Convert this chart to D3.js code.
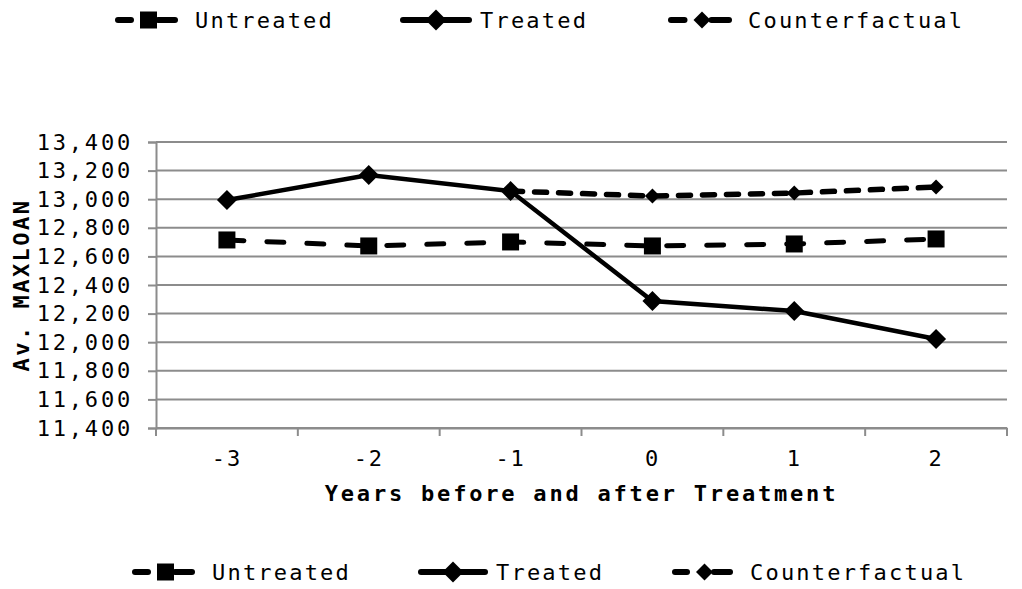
<!DOCTYPE html>
<html>
<head>
<meta charset="utf-8">
<script src="https://cdn.jsdelivr.net/npm/d3@7"></script>
<style>
  body { margin: 0; background: #fff; }
  text { font-family: "DejaVu Sans Mono", monospace; fill: #000; }
</style>
</head>
<body>
<div id="chart"></div>
<script>
// --------------------------------------
//  data
// --------------------------------------
const years = ["-3", "-2", "-1", "0", "1", "2"];
const untreated = [12715, 12673, 12701, 12673, 12687, 12722];
const treated = [12994, 13169, 13057, 12288, 12218, 12022];
const counterfactual = [null, null, 13057, 13022, 13043, 13085];
const yTicks = [11400, 11600, 11800, 12000, 12200, 12400, 12600, 12800, 13000, 13200, 13400];

const width = 1022, height = 589;
const margin = {top: 142, right: 15, bottom: 161, left: 156};
const innerwidth = width - margin.left - margin.right;
const innerheight = height - margin.top - margin.bottom;

const svg = d3.select("#chart")
  .append("svg")
    .attr("width", width)
    .attr("height", height)
    .attr("viewBox", [0, 0, width, height]);

const inner = svg.append("g")
    .attr("transform", `translate(${margin.left}, ${margin.top})`);

// --------------------------------------
//  scales
// --------------------------------------
const x = d3.scaleBand().domain(years).range([0, innerwidth]);
const y = d3.scaleLinear().domain([11400, 13400]).range([innerheight, 0]);
const fmt = d3.format(",");

// --------------------------------------
//  grid + axes
// --------------------------------------
inner.append("g")
  .selectAll("line")
  .data(yTicks)
  .join("line")
    .attr("x1", 0).attr("x2", innerwidth)
    .attr("y1", d => y(d)).attr("y2", d => y(d))
    .attr("stroke", "#8c8c8c").attr("stroke-width", 2);

const yAxis = inner.append("g")
  .call(d3.axisLeft(y).tickValues(yTicks).tickFormat(fmt).tickSize(8).tickPadding(15));
yAxis.select(".domain").attr("stroke", "#8c8c8c").attr("stroke-width", 2);
yAxis.selectAll(".tick line").attr("stroke", "#8c8c8c").attr("stroke-width", 2);
yAxis.selectAll(".tick text")
  .style("font-size", "22px").style("letter-spacing", "2.8px");

const xAxis = inner.append("g")
  .attr("transform", `translate(0, ${innerheight})`)
  .call(d3.axisBottom(x).tickSize(0).tickPadding(22));
xAxis.select(".domain").attr("stroke", "#8c8c8c").attr("stroke-width", 2);
xAxis.selectAll(".tick text")
  .style("font-size", "22px").style("letter-spacing", "1.8px");

inner.append("g")
  .selectAll("line")
  .data(years.concat(["end"]))
  .join("line")
    .attr("x1", (d, i) => i * x.step()).attr("x2", (d, i) => i * x.step())
    .attr("y1", innerheight).attr("y2", innerheight + 8)
    .attr("stroke", "#8c8c8c").attr("stroke-width", 2);

svg.append("text")
  .attr("x", margin.left + innerwidth / 2)
  .attr("y", 501)
  .attr("text-anchor", "middle")
  .style("font-size", "22px").style("font-weight", "bold").style("letter-spacing", "2.8px")
  .text("Years before and after Treatment");

svg.append("text")
  .attr("transform", `translate(29, ${margin.top + innerheight / 2}) rotate(-90)`)
  .attr("text-anchor", "middle")
  .style("font-size", "22px").style("font-weight", "bold").style("letter-spacing", "2.5px")
  .text("Av. MAXLOAN");

// --------------------------------------
//  series
// --------------------------------------
const series = [
  {name: "Untreated", values: untreated, dash: "17,23", width: 5, marker: "square", size: 17, legSize: 17},
  {name: "Treated", values: treated, dash: null, width: 4.5, marker: "diamond", size: 20, legSize: 21},
  {name: "Counterfactual", values: counterfactual, dash: "12,12", width: 5.5, marker: "diamond", size: 15, legSize: 17}
];

const cx = i => x(years[i]) + x.bandwidth() / 2;

function markerPath(type, s) {
  const h = s / 2;
  if (type === "square") return `M${-h},${-h}H${h}V${h}H${-h}Z`;
  return `M0,${-h}L${h},0L0,${h}L${-h},0Z`;
}

const line = d3.line()
  .defined(d => d != null)
  .x((d, i) => cx(i))
  .y(d => y(d));

series.forEach(s => {
  inner.append("path")
    .datum(s.values)
    .attr("d", line)
    .attr("fill", "none")
    .attr("stroke", "#000")
    .attr("stroke-width", s.width)
    .attr("stroke-dasharray", s.dash)
    .attr("stroke-linecap", s.dash ? "round" : "butt");
});

series.forEach(s => {
  inner.append("g")
    .selectAll("path")
    .data(s.values.map((v, i) => ({v, i})).filter(d => d.v != null))
    .join("path")
      .attr("transform", d => `translate(${cx(d.i)}, ${y(d.v)})`)
      .attr("d", markerPath(s.marker, s.size))
      .attr("fill", "#000");
});

// --------------------------------------
//  legends
// --------------------------------------
function legend(yPos, positions) {
  const g = svg.append("g");
  series.forEach((s, k) => {
    const p = positions[k];
    const mid = (p[0] + p[1]) / 2;
    const h = s.legSize / 2;
    const segs = s.dash ? [[p[0], mid - h - 4], [mid + h, p[1]]] : [[p[0], p[1]]];
    segs.forEach(sg => {
      g.append("line")
        .attr("x1", sg[0] + 3).attr("x2", sg[1] - 3)
        .attr("y1", yPos).attr("y2", yPos)
        .attr("stroke", "#000").attr("stroke-width", 6)
        .attr("stroke-linecap", "round");
    });
    g.append("path")
      .attr("transform", `translate(${mid + (s.dash ? 2 : 0)}, ${yPos})`)
      .attr("d", markerPath(s.marker, s.legSize))
      .attr("fill", "#000");
    g.append("text")
      .attr("x", p[2]).attr("y", yPos + 8)
      .style("font-size", "22px").style("letter-spacing", "2.2px")
      .text(s.name);
  });
}

legend(20, [[115, 178, 195], [400, 472, 480], [668, 732, 748]]);
legend(572, [[132, 195, 212], [418, 488, 496], [672, 733, 750]]);
</script>
</body>
</html>
